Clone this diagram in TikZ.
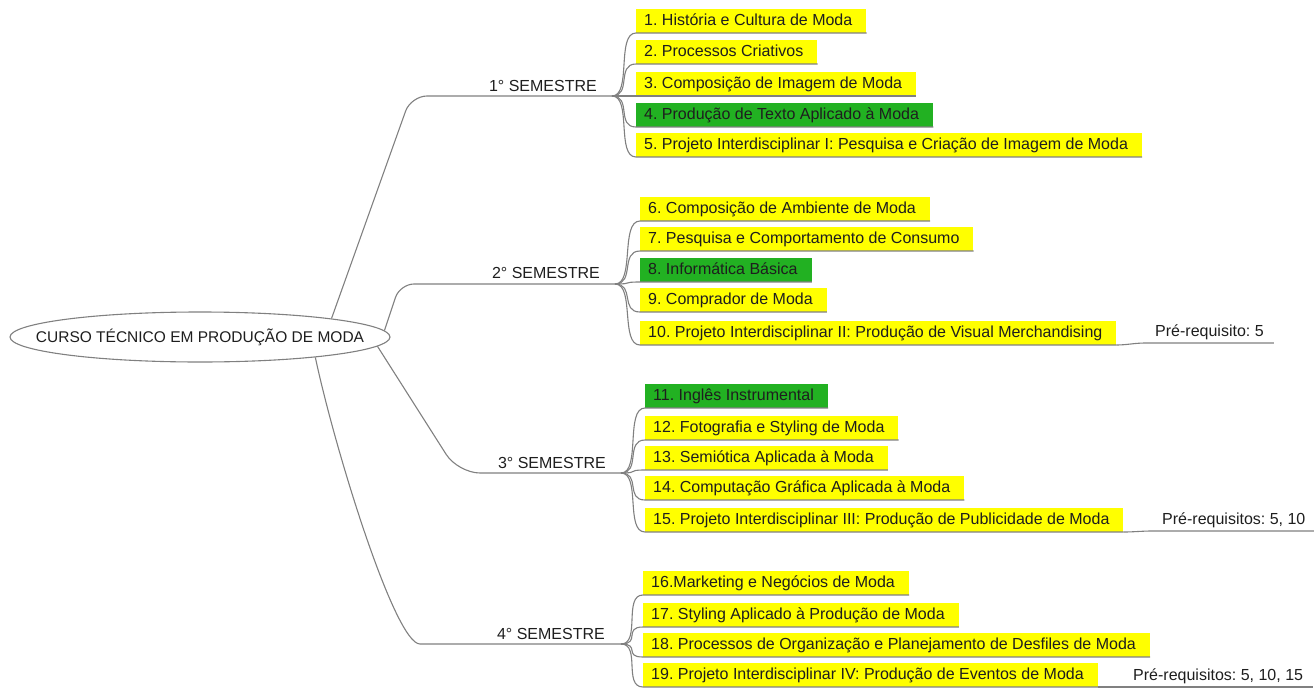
\documentclass[tikz,border=0pt]{standalone}
\usepackage{fontspec}
\setmainfont{Liberation Sans}
\usetikzlibrary{shapes.geometric}
\definecolor{ln}{RGB}{128,128,128}
\definecolor{yl}{RGB}{255,255,0}
\definecolor{gr}{RGB}{34,177,34}
\definecolor{tx}{RGB}{30,30,30}
\frenchspacing
\begin{document}
\begin{tikzpicture}[x=1pt,y=-1pt,
  edge/.style={draw=ln, line width=1.1pt},
  item/.style={anchor=south west, fill=yl, inner xsep=0pt, inner ysep=0pt,
    minimum height=24pt, text height=12pt, text depth=3.5pt,
    font=\fontsize{16}{19}\selectfont, text=tx,
    execute at begin node={\kern8pt}, execute at end node={\kern14pt}},
  greenitem/.style={item, fill=gr},
  sem/.style={anchor=base east, inner sep=0pt, font=\fontsize{16}{19}\selectfont, text=tx},
  pre/.style={anchor=south west, inner xsep=10pt, inner ysep=3pt,
    text height=12pt, text depth=3.5pt, font=\fontsize{16}{19}\selectfont, text=tx},
]
\useasboundingbox (0,0) rectangle (1314,688);

% root
\node[ellipse, draw=ln, line width=1.1pt, fill=white, minimum width=380pt, minimum height=50pt,
  inner sep=0pt, font=\fontsize{15.5}{18}\selectfont, text=tx] (root) at (200,337)
  {\makebox[0pt]{CURSO TÉCNICO EM PRODUÇÃO DE MODA}};

% semester branch points and labels
\coordinate (b1) at (612,96);
\coordinate (b2) at (615,284);
\coordinate (b3) at (621,473);
\coordinate (b4) at (621,644);
\node[sem] (s1) at (597,91) {1° SEMESTRE};
\node[sem] (s2) at (600,278) {2° SEMESTRE};
\node[sem] (s3) at (606,468) {3° SEMESTRE};
\node[sem] (s4) at (605,639) {4° SEMESTRE};

\draw[edge, rounded corners=16pt] (root.8) -- (411,96) -- (b1);
\draw[edge, rounded corners=14pt] (root.2) -- (400,284) -- (b2);
\draw[edge, rounded corners=22pt] (root.-3.5) -- (458,473) -- (b3);
\draw[edge] (root.-10) .. controls (335,450) and (395,644) .. (420,644) -- (b4);

% semester 1
\node[item] (i1) at (636,33) {1. História e Cultura de Moda};
\node[item] (i2) at (636,64) {2. Processos Criativos};
\node[item] (i3) at (636,96) {3. Composição de Imagem de Moda};
\node[greenitem] (i4) at (636,127) {4. Produção de Texto Aplicado à Moda};
\node[item] (i5) at (636,157) {5. Projeto Interdisciplinar I: Pesquisa e Criação de Imagem de Moda};
\foreach \n in {i1,i2,i3,i4,i5}
  \draw[edge] (b1) .. controls +(20,0) and +(-20,0) .. (\n.south west) -- (\n.south east);

% semester 2
\node[item] (i6) at (640,221) {6. Composição de Ambiente de Moda};
\node[item] (i7) at (640,251) {7. Pesquisa e Comportamento de Consumo};
\node[greenitem] (i8) at (640,282) {8. Informática Básica};
\node[item] (i9) at (640,312) {9. Comprador de Moda};
\node[item] (i10) at (640,345) {10. Projeto Interdisciplinar II: Produção de Visual Merchandising};
\foreach \n in {i6,i7,i8,i9,i10}
  \draw[edge] (b2) .. controls +(20,0) and +(-20,0) .. (\n.south west) -- (\n.south east);

% semester 3
\node[greenitem] (i11) at (645,408) {11. Inglês Instrumental};
\node[item] (i12) at (645,440) {12. Fotografia e Styling de Moda};
\node[item] (i13) at (645,470) {13. Semiótica Aplicada à Moda};
\node[item] (i14) at (645,500) {14. Computação Gráfica Aplicada à Moda};
\node[item] (i15) at (645,532) {15. Projeto Interdisciplinar III: Produção de Publicidade de Moda};
\foreach \n in {i11,i12,i13,i14,i15}
  \draw[edge] (b3) .. controls +(20,0) and +(-20,0) .. (\n.south west) -- (\n.south east);

% semester 4
\node[item] (i16) at (643,595) {16.Marketing e Negócios de Moda};
\node[item] (i17) at (643,627) {17. Styling Aplicado à Produção de Moda};
\node[item] (i18) at (643,657) {18. Processos de Organização e Planejamento de Desfiles de Moda};
\node[item] (i19) at (643,687) {19. Projeto Interdisciplinar IV: Produção de Eventos de Moda};
\foreach \n in {i16,i17,i18,i19}
  \draw[edge] (b4) .. controls +(20,0) and +(-20,0) .. (\n.south west) -- (\n.south east);

% prerequisites
\node[pre] (p10) at (1145,343) {Pré-requisito: 5};
\node[pre] (p15) at (1152,531) {Pré-requisitos: 5, 10};
\node[pre] (p19) at (1123,687) {Pré-requisitos: 5, 10, 15};
\draw[edge] (i10.south east) .. controls +(10,0) and +(-10,0) .. (p10.south west) -- (p10.south east);
\draw[edge] (i15.south east) .. controls +(10,0) and +(-10,0) .. (p15.south west) -- (p15.south east);
\draw[edge] (i19.south east) .. controls +(10,0) and +(-10,0) .. (p19.south west) -- (p19.south east);
\end{tikzpicture}
\end{document}
